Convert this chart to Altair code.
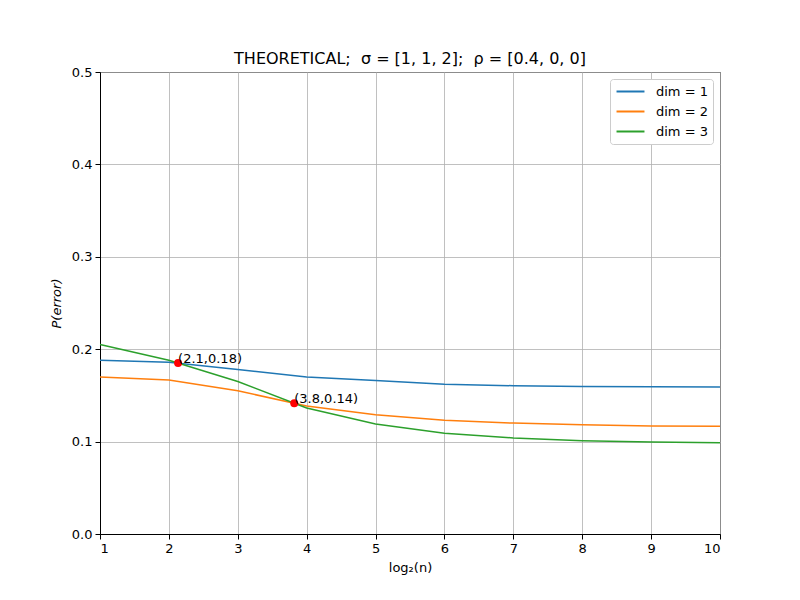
import altair as alt
import numpy as np
import pandas as pd

# log2(n) sample points and theoretical error probabilities per dimension
log2_n = [1, 2, 3, 4, 5, 6, 7, 8, 9, 10]
dim1 = [0.188, 0.186, 0.178, 0.170, 0.166, 0.162, 0.1605, 0.1595, 0.1593, 0.159]
dim2 = [0.170, 0.1667, 0.155, 0.1385, 0.129, 0.123, 0.120, 0.1183, 0.117, 0.1166]
dim3 = [0.205, 0.188, 0.165, 0.1363, 0.119, 0.109, 0.104, 0.101, 0.0996, 0.0988]
series_names = ["dim = 1", "dim = 2", "dim = 3"]
colors = ["#1f77b4", "#ff7f0e", "#2ca02c"]
x_ticks = [1, 2, 3, 4, 5, 6, 7, 8, 9, 10]
y_ticks = [0.0, 0.1, 0.2, 0.3, 0.4, 0.5]

FONT = "DejaVu Sans"
NBSP = "\u00a0"

rows = []
for name, vals in zip(series_names, [dim1, dim2, dim3]):
    for x, y in zip(log2_n, vals):
        rows.append({"x": x, "y": y, "series": name})
df = pd.DataFrame(rows)


def crossing(a, b):
    """First crossing point of two piecewise-linear curves on log2_n."""
    a = np.asarray(a)
    b = np.asarray(b)
    d = a - b
    for i in range(len(d) - 1):
        if d[i] == 0 or d[i] * d[i + 1] < 0:
            t = d[i] / (d[i] - d[i + 1])
            x = log2_n[i] + t * (log2_n[i + 1] - log2_n[i])
            y = a[i] + t * (a[i + 1] - a[i])
            return x, y
    return None


pts = [crossing(dim1, dim3), crossing(dim2, dim3)]
pts_df = pd.DataFrame(
    [{"x": x, "y": y, "label": f"({x:.1f},{y:.2f})"} for x, y in pts]
)

x_enc = alt.X(
    "x:Q",
    scale=alt.Scale(domain=[1, 10], nice=False),
    axis=alt.Axis(values=x_ticks, format="d", title="log₂(n)"),
)
y_enc = alt.Y(
    "y:Q",
    scale=alt.Scale(domain=[0, 0.5], nice=False),
    axis=alt.Axis(values=y_ticks, format=".1f", title="P(error)",
                  titleFontStyle="italic"),
)

lines = alt.Chart(df).mark_line(strokeWidth=1.5).encode(
    x=x_enc,
    y=y_enc,
    color=alt.Color(
        "series:N",
        scale=alt.Scale(domain=series_names, range=colors),
        title=None,
        legend=alt.Legend(orient="top-right"),
    ),
)

dots = alt.Chart(pts_df).mark_circle(color="red", size=64, opacity=1).encode(
    x="x:Q", y="y:Q"
)

labels = alt.Chart(pts_df).mark_text(
    align="left", baseline="alphabetic", font=FONT, fontSize=13, color="black"
).encode(x="x:Q", y="y:Q", text="label:N")

title_text = f"THEORETICAL;{NBSP} σ = [1, 1, 2];{NBSP} ρ = [0.4, 0, 0]"

chart = (
    alt.layer(lines, dots, labels)
    .properties(
        width=620,
        height=462,
        title=alt.TitleParams(
            title_text, font=FONT, fontSize=16, fontWeight="normal", offset=-1,
        ),
        autosize=alt.AutoSizeParams(type="none"),
        padding={"left": 100, "top": 72, "right": 80, "bottom": 66},
        background="white",
    )
    .configure_view(stroke="black", strokeWidth=1)
    .configure_axis(
        labelFont=FONT, labelFontSize=13, labelColor="black",
        titleFont=FONT, titleFontSize=13, titleFontWeight="normal", titleColor="black",
        grid=True, gridColor="#b0b0b0", gridWidth=0.8,
        domainColor="black", tickColor="black", tickSize=5, labelPadding=3,
    )
    .configure_axisX(titlePadding=6)
    .configure_axisY(titlePadding=8)
    .configure_legend(
        labelFont=FONT, labelFontSize=13, labelColor="black",
        strokeColor="#cccccc", fillColor="white", padding=5, cornerRadius=3,
        offset=7, symbolType="M-2.15,0H2.15", symbolStrokeWidth=2, symbolSize=169,
        symbolOffset=8, rowPadding=5, labelOffset=18,
    )
)

chart.save("out.html", embed_options={"renderer": "svg", "actions": False})
